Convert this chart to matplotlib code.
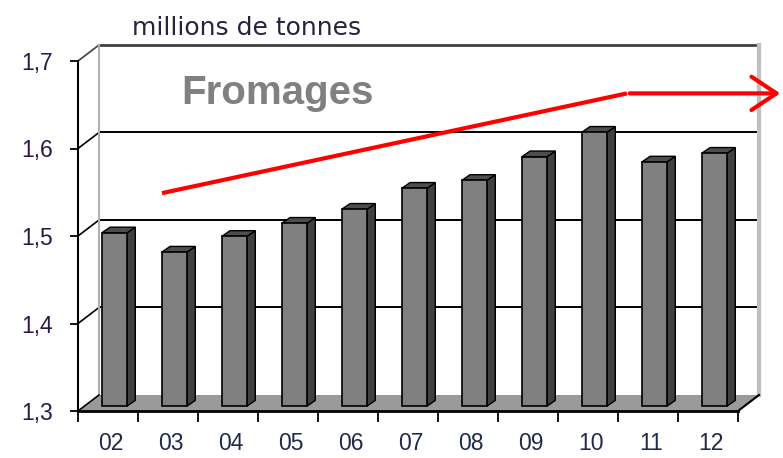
import numpy as np
import matplotlib
matplotlib.use('Agg')
import matplotlib.pyplot as plt
from matplotlib.patches import Polygon

matplotlib.rcParams['font.family'] = ['Liberation Sans', 'DejaVu Sans']

# data (millions de tonnes)
annees = ['02', '03', '04', '05', '06', '07', '08', '09', '10', '11', '12']
production = [1.498, 1.476, 1.494, 1.509, 1.525, 1.549, 1.558, 1.585, 1.613, 1.579, 1.589]
y_ticks = [1.3, 1.4, 1.5, 1.6, 1.7]
y_labels = ['1,3', '1,4', '1,5', '1,6', '1,7']
# trend arrow drawn over the chart
trend_x = [0.9, 8.65, 11.25]
trend_y = [1.549, 1.663, 1.663]

# fake 3d depth, in data units (21px right, 16px up)
DX, DY = 0.35, 0.0183
bar_w = 0.42
bar_pos = 0.3          # bar front face depth fraction
side_dx, side_dy = 0.14, 0.0066

fig = plt.figure(figsize=(7.83, 4.58), dpi=100)
ax = fig.add_axes([78/783, 47/458, 660/783, 350/458])
n = len(annees)
x0, x1 = -0.5, n - 0.5
ax.set_xlim(x0, x1)
ax.set_ylim(1.3, 1.7)

# floor
floor = Polygon([(x0, 1.3), (x1, 1.3), (x1+DX, 1.3+DY), (x0+DX, 1.3+DY)],
                closed=True, fc='#9a9a9a', ec='none', clip_on=False, zorder=1)
ax.add_patch(floor)
ax.plot([x1, x1+DX], [1.3, 1.3+DY], color='black', lw=1.5, clip_on=False, zorder=2)
ax.plot([x0, x0+DX], [1.3, 1.3+DY], color='black', lw=1.2, clip_on=False, zorder=2)

# back wall
for v in y_ticks[1:-1]:
    ax.plot([x0+DX, x1+DX], [v+DY, v+DY], color='black', lw=1.4, clip_on=False, zorder=1)
    ax.plot([x0, x0+DX], [v, v+DY], color='black', lw=1.2, clip_on=False, zorder=1)
ax.plot([x0+DX, x1+DX], [1.7+DY, 1.7+DY], color='#404040', lw=2, clip_on=False, zorder=1)
ax.plot([x0, x0+DX], [1.7, 1.7+DY], color='#404040', lw=1.2, clip_on=False, zorder=1)
ax.plot([x0+DX, x0+DX], [1.3+DY, 1.7+DY], color='#b0b0b0', lw=1.5, clip_on=False, zorder=1)
ax.plot([x1+DX, x1+DX], [1.3+DY, 1.7+DY], color='#c0c0c0', lw=3, clip_on=False, zorder=1)

# bars
xs = np.arange(n) + bar_pos*DX
base = 1.3 + bar_pos*DY
heights = [v - 1.3 for v in production]
ax.bar(xs, heights, width=bar_w, bottom=base, color='#808080',
       edgecolor='black', linewidth=1.2, zorder=4, clip_on=False)
for xc, v in zip(xs, production):
    top = v + bar_pos*DY
    xl, xr = xc - bar_w/2, xc + bar_w/2
    side = Polygon([(xr, base), (xr+side_dx, base+side_dy), (xr+side_dx, top+side_dy), (xr, top)],
                   closed=True, fc='#404040', ec='black', lw=1.0, zorder=3, clip_on=False)
    tp = Polygon([(xl, top), (xr, top), (xr+side_dx, top+side_dy), (xl+side_dx, top+side_dy)],
                 closed=True, fc='#4d4d4d', ec='black', lw=1.0, zorder=3, clip_on=False)
    ax.add_patch(side)
    ax.add_patch(tp)

# trend arrow
ax.plot(trend_x[:2], trend_y[:2], color='red', lw=3, solid_capstyle='butt', clip_on=False, zorder=6)
ax.annotate('', xy=(trend_x[2], trend_y[2]), xytext=(trend_x[1], trend_y[1]),
            arrowprops=dict(arrowstyle='->,head_length=0.45,head_width=0.3', color='red',
                            lw=3, mutation_scale=40),
            annotation_clip=False, zorder=6)

# axes look
for s in ['top', 'right']:
    ax.spines[s].set_visible(False)
ax.spines['left'].set_linewidth(1.5)
ax.spines['bottom'].set_linewidth(2)
ax.set_yticks(y_ticks)
ax.set_yticklabels(y_labels)
ax.tick_params(axis='y', length=6, width=1.3, pad=12, labelsize=16.5, labelcolor='#2a1a45')
ax.set_xticks(np.arange(n + 1) - 0.5)
ax.set_xticklabels([])
ax.set_xticks(np.arange(n) + 0.05, minor=True)
ax.set_xticklabels(annees, minor=True)
ax.tick_params(axis='x', which='major', length=8, width=1.3)
ax.tick_params(axis='x', which='minor', length=0, pad=15, labelsize=16.5, labelcolor='#1f2a4a')
ax.patch.set_alpha(0)

fig.text(132/783, 1 - 35/458, 'millions de tonnes', fontsize=18, family='DejaVu Sans',
         color='#2a2040', va='baseline', ha='left')
fig.text(277/783, 1 - 93/458, 'Fromages', fontsize=29, fontweight='bold',
         color='#808080', va='center', ha='center')

plt.savefig('out.png', dpi=100)
